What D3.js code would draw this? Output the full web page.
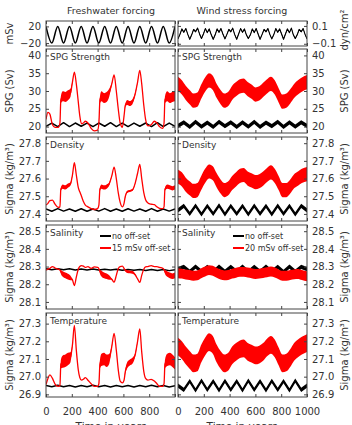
<!DOCTYPE html>
<html><head><meta charset="utf-8">
<script src="https://cdn.jsdelivr.net/npm/d3@7"></script>
<style>body{margin:0;background:#fff}svg{display:block}text{font-family:"DejaVu Sans",sans-serif;fill:#333}</style>
</head><body><svg id="c" width="352" height="425"></svg>
<script>
// ---------- DATA ----------
const columnTitles = ["Freshwater forcing", "Wind stress forcing"];
const panelLabels = ["SPG Strength", "Density", "Salinity", "Temperature"];
const leftTitles = ["mSv", "SPG (Sv)", "Sigma (kg/m³)", "Sigma (kg/m³)", "Sigma (kg/m³)"];
const rightTitles = ["dyn/cm²", "SPG (Sv)", "Sigma  (kg/m³)", "Sigma  (kg/m³)", "Sigma  (kg/m³)"];
const legendLabels = [["no off-set", "15 mSv off-set"], ["no off-set", "20 mSv off-set"]];
const xTickLabels = [[0, 200, 400, 600, 800], [0, 200, 400, 600, 800, 1000]];
const xTicks = [0, 200, 400, 600, 800, 1000];
const yearDomain = [0, 1000];
const forcingTicksFw = [-20, 20];
const forcingTicksWs = [-0.1, 0.1];
const spgTicks = [20, 25, 30, 35, 40];
const denTicks = [27.4, 27.5, 27.6, 27.7, 27.8];
const salTicks = [28.1, 28.2, 28.3, 28.4, 28.5];
const tmpTicks = [26.9, 27.0, 27.1, 27.2, 27.3];

// periodic grid of forcing extremes (~91 yr period)
const cycleYears = d3.range(23).map(i => Math.round(i * 1000 / 22));
const fwForcing = [20,-20,20,-20,20,-20,20,-20,20,-20,20,-20,20,-20,20,-20,20,-20,20,-20,20,-20,20];
const fwSpgBlack = [20.1,21,20,21.1,20,21,20.1,21,20,21,20.1,21.1,20,21,20,21,20.1,21,20,21.1,20,21,20.1];
const fwDenBlack = [27.428,27.415,27.43,27.416,27.428,27.415,27.429,27.415,27.428,27.416,27.43,27.415,27.428,27.415,27.429,27.416,27.428,27.415,27.43,27.415,27.428,27.416,27.428];
const fwSalBlack = [28.287,28.282,28.288,28.282,28.287,28.281,28.286,28.281,28.286,28.28,28.285,28.28,28.285,28.279,28.284,28.279,28.284,28.278,28.283,28.278,28.283,28.277,28.282];
const fwTmpBlack = [26.95,26.943,26.951,26.943,26.95,26.942,26.95,26.943,26.951,26.943,26.95,26.942,26.95,26.943,26.95,26.942,26.95,26.943,26.951,26.943,26.95,26.942,26.949];

// freshwater forcing, 15 mSv off-set (red)
const fwYears = [0,15,30,50,70,95,108,115,130,150,170,190,205,220,235,250,262,275,290,305,325,350,375,400,410,418,430,450,470,490,510,528,545,560,575,592,605,615,630,650,670,690,710,727,742,758,772,790,815,840,860,880,905,915,922,940,960,980,1000];
const fwNoiseLevel = [0,0,0,0,0,0,0, .7,1,1,1,.8,.2,0, 0,0,0,0,0,0, 0,0,0,0,0, .7,1,1,1,.8,.2,0, 0,0,0,0,0, .3,.5,.5,.5,.3,.1,0, 0,0,0,0,0,0,0,0, 0,0,.7,1,1,1,1];
const fwNoiseAmp = [1.4, 0.012, 0.016, 0.035];
const fwSpgRed = [22,24,23.5,20.5,19.8,19.8,21, 27.5,28.5,28.3,28.8,29.5,32.5,35.3, 32,27,23,20.8,21,21.5, 21,19.5,18.8,19,21, 27.5,28.5,28,28.3,29.5,32,34.5, 30,25,21,19.8,23, 26,26.8,26.5,27,29,32.5,35.8, 32,26,22,20.2,20.5,21.5,21,20, 19.5,21,27.5,28.5,28,28.3,28.5];
const fwDenRed = [27.45,27.46,27.475,27.478,27.455,27.437,27.44, 27.54,27.555,27.55,27.56,27.57,27.62,27.69, 27.62,27.55,27.525,27.5,27.47,27.45, 27.44,27.43,27.425,27.43,27.45, 27.54,27.555,27.55,27.555,27.57,27.615,27.665, 27.6,27.52,27.465,27.44,27.46, 27.5,27.525,27.53,27.535,27.57,27.63,27.68, 27.6,27.52,27.48,27.462,27.455,27.452,27.44,27.432, 27.43,27.44,27.54,27.555,27.55,27.545,27.55];
const fwSalRed = [28.28,28.285,28.29,28.3,28.292,28.285,28.28, 28.27,28.258,28.25,28.243,28.235,28.225,28.192, 28.24,28.285,28.3,28.305,28.302,28.295, 28.3,28.29,28.298,28.295,28.288, 28.272,28.26,28.25,28.245,28.238,28.228,28.212, 28.25,28.288,28.3,28.302,28.29, 28.278,28.272,28.27,28.268,28.255,28.23,28.21, 28.25,28.285,28.298,28.3,28.305,28.3,28.3,28.295, 28.29,28.283,28.27,28.258,28.25,28.245,28.25];
const fwTmpRed = [26.955,26.99,27.01,26.99,26.958,26.945,26.95, 27.07,27.085,27.09,27.1,27.11,27.18,27.29, 27.15,27.04,26.995,26.98,26.985,26.995, 26.98,26.96,26.945,26.945,26.96, 27.07,27.095,27.1,27.09,27.1,27.17,27.245, 27.15,27.04,26.975,26.965,26.98, 27.03,27.065,27.08,27.09,27.12,27.2,27.27, 27.14,27.03,26.99,26.98,26.985,26.975,26.96,26.945, 26.945,26.96,27.07,27.095,27.1,27.09,27.075];

// wind stress forcing
const wsForcingYears = d3.range(67).map(i => Math.round(i * 1000 / 66));
const wsForcing = [-0.045,0.005,0.065,0.03,0.07,0.005, -0.05,0,0.06,0.035,0.075,0.01, -0.04,0.01,0.07,0.025,0.065,0, -0.05,0,0.065,0.03,0.07,0.01, -0.045,0.005,0.06,0.035,0.075,0.005, -0.05,0.01,0.07,0.03,0.065,0, -0.04,0,0.065,0.025,0.07,0.01, -0.05,0.005,0.06,0.035,0.07,0.005, -0.045,0,0.07,0.03,0.065,0.01, -0.05,0.01,0.065,0.025,0.075,0, -0.04,0,0.06,0.035,0.07,0.005, -0.045];
const wsForcingNoise = 0.008;
const wsSpgBlack = [20.2,21.2,19.9,21.3,20,21.1,19.9,21.3,20.1,21.2,19.9,21.2,20,21.3,19.9,21.1,20.1,21.3,19.9,21.2,20,21.2,20.2];
const wsDenBlack = [27.42,27.445,27.4,27.447,27.398,27.445,27.4,27.448,27.398,27.445,27.4,27.446,27.398,27.447,27.4,27.445,27.398,27.447,27.4,27.445,27.398,27.446,27.42];
const wsSalBlack = [28.285,28.298,28.272,28.3,28.272,28.298,28.27,28.3,28.272,28.298,28.272,28.3,28.27,28.298,28.272,28.3,28.272,28.298,28.27,28.3,28.272,28.298,28.285];
const wsTmpBlack = [26.95,26.925,26.975,26.923,26.977,26.925,26.975,26.923,26.976,26.925,26.975,26.923,26.977,26.925,26.975,26.923,26.976,26.925,26.975,26.923,26.977,26.925,26.95];
const wsBlackNoise = [0.6, 0.012, 0.012, 0.012];

const wsYears = [0,30,60,90,120,150,180,210,240,270,300,330,360,390,420,450,480,510,540,570,600,630,660,690,720,750,780,810,840,870,900,930,960,1000];
const wsSpgRed = [32,31,29.5,28.3,27.3,27.6,29.8,31.8,33,32.3,30,28.3,27.3,27.8,29.5,30.5,31.3,31.5,30.5,29.8,29,29.3,30.3,31.3,32,31,28.8,27,27.3,28.5,30,31,31.8,32.5];
const wsDenRed = [27.61,27.595,27.565,27.545,27.53,27.535,27.575,27.615,27.64,27.63,27.59,27.555,27.535,27.545,27.575,27.595,27.615,27.62,27.6,27.59,27.58,27.585,27.6,27.62,27.635,27.615,27.575,27.535,27.535,27.555,27.585,27.6,27.615,27.625];
const wsSalRed = [28.262,28.26,28.255,28.252,28.248,28.25,28.262,28.272,28.28,28.276,28.265,28.255,28.25,28.252,28.26,28.265,28.27,28.27,28.266,28.262,28.258,28.26,28.264,28.268,28.272,28.266,28.256,28.248,28.248,28.252,28.256,28.258,28.252,28.245];
const wsTmpRed = [27.17,27.15,27.12,27.095,27.075,27.08,27.13,27.17,27.195,27.18,27.13,27.095,27.075,27.085,27.12,27.14,27.155,27.16,27.14,27.13,27.12,27.125,27.14,27.165,27.18,27.16,27.115,27.075,27.08,27.105,27.14,27.16,27.175,27.19];
const wsRedNoise = [2.0, 0.04, 0.028, 0.05];

// ---------- LAYOUT ----------
const svg = d3.select("#c");
const cols = [{x0:46, x1:175, cx:111}, {x0:178, x1:307, cx:242}];
const rows = [{y0:21,y1:46},{y0:49,y1:133},{y0:137,y1:221},{y0:225,y1:309},{y0:313,y1:397}];
const domains = [null, [18.2, 41.8], [27.36, 27.835], [28.06, 28.535], [26.885, 27.36]];
const forcingDomains = [[-27, 33], [-0.125, 0.155]];
const yTicks = [null, spgTicks, denTicks, salTicks, tmpTicks];
const RED = "#ff0000", BLK = "#000";

const xs = cols.map(c => d3.scaleLinear().domain(yearDomain).range([c.x0, c.x1]));

function panelScale(r, c) {
  const dom = r === 0 ? forcingDomains[c] : domains[r];
  return d3.scaleLinear().domain(dom).range([rows[r].y1, rows[r].y0]);
}
function tickFmt(r, c) {
  if (r === 0) return c === 0 ? d3.format("d") : d3.format(".1f");
  if (r === 1) return d3.format("d");
  return d3.format(".1f");
}

let clipId = 0;
function drawBandLine(g, x, y, years, vals, noise, color, curve, lw) {
  const pts = years.map((t, i) => ({t, v: vals[i], n: Array.isArray(noise) ? noise[i] : noise}));
  if (noise !== null) {
    g.append("path").datum(pts)
      .attr("d", d3.area().curve(curve).x(d => x(d.t)).y0(d => y(d.v - d.n)).y1(d => y(d.v + d.n)))
      .attr("fill", color).attr("stroke", "none");
  }
  g.append("path").datum(pts)
    .attr("d", d3.line().curve(curve).x(d => x(d.t)).y(d => y(d.v)))
    .attr("fill", "none").attr("stroke", color).attr("stroke-width", lw).attr("stroke-linejoin", "round");
}

const fwBlack = [fwSpgBlack, fwDenBlack, fwSalBlack, fwTmpBlack];
const fwRed = [fwSpgRed, fwDenRed, fwSalRed, fwTmpRed];
const wsBlack = [wsSpgBlack, wsDenBlack, wsSalBlack, wsTmpBlack];
const wsRed = [wsSpgRed, wsDenRed, wsSalRed, wsTmpRed];

for (let c = 0; c < 2; c++) {
  const x = xs[c];
  const col = cols[c];
  svg.append("text").attr("x", col.cx).attr("y", 14).attr("text-anchor", "middle")
    .attr("font-size", 9.5).text(columnTitles[c]);
  for (let r = 0; r < 5; r++) {
    const row = rows[r];
    const y = panelScale(r, c);
    const id = "clip" + (clipId++);
    svg.append("clipPath").attr("id", id).append("rect")
      .attr("x", col.x0).attr("y", row.y0).attr("width", col.x1 - col.x0).attr("height", row.y1 - row.y0);
    const g = svg.append("g").attr("clip-path", `url(#${id})`);

    if (r === 0) {
      if (c === 0) drawBandLine(g, x, y, cycleYears, fwForcing, null, BLK, d3.curveMonotoneX, 1.5);
      else drawBandLine(g, x, y, wsForcingYears, wsForcing, wsForcingNoise, BLK, d3.curveLinear, 1.1);
    } else {
      const k = r - 1;
      if (c === 0) {
        drawBandLine(g, x, y, cycleYears, fwBlack[k], null, BLK, d3.curveLinear, 1.5);
        drawBandLine(g, x, y, fwYears, fwRed[k], fwNoiseLevel.map(l => l * fwNoiseAmp[k]), RED, d3.curveMonotoneX, 1.3);
      } else {
        drawBandLine(g, x, y, cycleYears, wsBlack[k], wsBlackNoise[k], BLK, d3.curveLinear, 1.2);
        drawBandLine(g, x, y, wsYears, wsRed[k], wsRedNoise[k], RED, d3.curveMonotoneX, 1.2);
      }
    }

    // frame
    svg.append("rect").attr("x", col.x0).attr("y", row.y0)
      .attr("width", col.x1 - col.x0).attr("height", row.y1 - row.y0)
      .attr("fill", "none").attr("stroke", "#444").attr("stroke-width", 1);

    const ticks = r === 0 ? (c === 0 ? forcingTicksFw : forcingTicksWs) : yTicks[r];
    const fmt = tickFmt(r, c);
    const axL = svg.append("g").attr("transform", `translate(${col.x0},0)`)
      .call(d3.axisLeft(y).tickValues(ticks).tickSize(-3).tickPadding(5).tickFormat(c === 0 ? fmt : () => ""));
    const axR = svg.append("g").attr("transform", `translate(${col.x1},0)`)
      .call(d3.axisRight(y).tickValues(ticks).tickSize(-3).tickPadding(5).tickFormat(c === 1 ? fmt : () => ""));
    const axT = svg.append("g").attr("transform", `translate(0,${row.y0})`)
      .call(d3.axisTop(x).tickValues(xTicks).tickSize(-3).tickFormat(() => ""));
    const axB = svg.append("g").attr("transform", `translate(0,${row.y1})`)
      .call(d3.axisBottom(x).tickValues(xTicks).tickSize(-3).tickPadding(11)
        .tickFormat(d => (r === 4 && xTickLabels[c].includes(d)) ? d3.format("d")(d) : ""));
    [axL, axR, axT, axB].forEach(a => {
      a.select(".domain").remove();
      a.selectAll("line").attr("stroke", "#444");
      a.selectAll("text").attr("font-size", 10).attr("font-family", "DejaVu Sans").attr("fill", "#333");
    });

    if (r > 0) {
      svg.append("text").attr("x", col.x0 + 4).attr("y", row.y0 + 11)
        .attr("font-size", 9).text(panelLabels[r - 1]);
    }
    if (r === 3) {
      const lx = c === 0 ? 100 : 233;
      legendLabels[c].forEach((lab, i) => {
        const ly = row.y0 + 11 + i * 12;
        svg.append("line").attr("x1", lx).attr("x2", lx + 11).attr("y1", ly).attr("y2", ly)
          .attr("stroke", i === 0 ? BLK : RED).attr("stroke-width", 2);
        svg.append("text").attr("x", lx + 12).attr("y", ly + 3).attr("font-size", 8).text(lab);
      });
    }

    // axis titles
    const cy = (row.y0 + row.y1) / 2;
    if (c === 0) {
      svg.append("text").attr("transform", `translate(13,${cy}) rotate(-90)`)
        .attr("text-anchor", "middle").attr("font-size", 10).text(leftTitles[r]);
    } else {
      svg.append("text").attr("transform", `translate(348,${r === 0 ? 30 : cy}) rotate(-90)`)
        .attr("text-anchor", "middle").attr("font-size", 10).text(rightTitles[r]);
    }
  }
  svg.append("text").attr("x", col.cx).attr("y", 430).attr("text-anchor", "middle")
    .attr("font-size", 10.5).text("Time in years");
}
</script></body></html>
